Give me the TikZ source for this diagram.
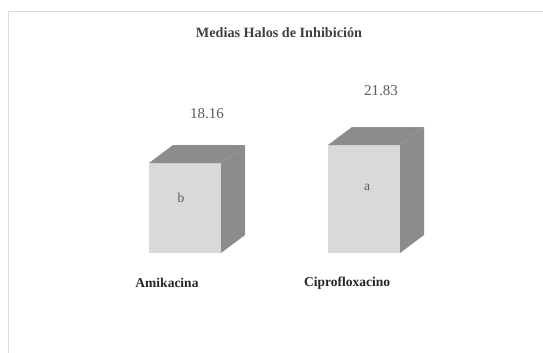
\documentclass[tikz,border=0pt]{standalone}
\usepackage{fontspec}
\usepackage{tkz-euclide}
\setmainfont{Liberation Serif}
\tikzset{>=stealth}
\definecolor{barfront}{HTML}{D9D9D9}
\definecolor{barshade}{HTML}{8C8C8C}
\definecolor{valuegray}{HTML}{595959}
\definecolor{framegray}{HTML}{D9D9D9}
\tikzset{
  value/.style={text=valuegray, font=\fontsize{15}{15}\selectfont},
  letter/.style={text=valuegray, font=\fontsize{13.5}{14}\selectfont},
  category/.style={text=black!85, font=\bfseries\fontsize{13.5}{14}\selectfont},
}
\begin{document}
\begin{tikzpicture}[x=1pt,y=-1pt]
    \useasboundingbox (0,0) rectangle (543,353);
    \draw[framegray, line width=1pt] (8,353) -- (8,11.5) -- (543,11.5);
    \node[text=black!75, font=\bfseries\fontsize{14.2}{15}\selectfont] (title) at (279,33) {Medias Halos de Inhibición};
    % Amikacina
    \tkzDefPoints{149/253/A, 221/253/B, 221/163/C, 149/163/D}
    \tkzDefShiftPoint[B](24,-18){E}
    \tkzDefShiftPoint[C](24,-18){F}
    \tkzDefShiftPoint[D](24,-18){G}
    \tkzFillPolygon[fill=barfront](A,B,C,D)
    \tkzFillPolygon[fill=barshade](D,C,F,G)
    \tkzFillPolygon[fill=barshade](B,E,F,C)
    % Ciprofloxacino
    \tkzDefPoints{328/253/H, 400/253/I, 400/145/J, 328/145/K}
    \tkzDefShiftPoint[I](24,-18){L}
    \tkzDefShiftPoint[J](24,-18){M}
    \tkzDefShiftPoint[K](24,-18){N}
    \tkzFillPolygon[fill=barfront](H,I,J,K)
    \tkzFillPolygon[fill=barshade](K,J,M,N)
    \tkzFillPolygon[fill=barshade](I,L,M,J)
    \node[value] (amival) at (207,114) {18.16};
    \node[value] (cipval) at (381,91) {21.83};
    \node[letter] (amilet) at (181,198) {b};
    \node[letter] (ciplet) at (367,187) {a};
    \node[category] (ami) at (167,283) {Amikacina};
    \node[category] (cip) at (347,283) {Ciprofloxacino};
\end{tikzpicture}
\end{document}
